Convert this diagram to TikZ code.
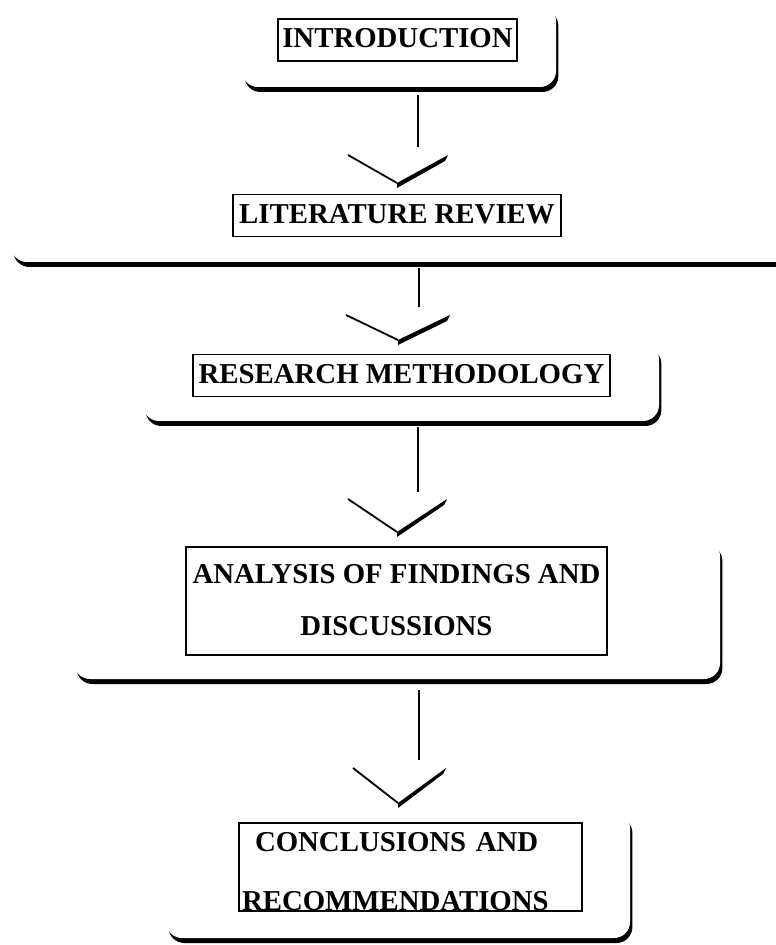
\documentclass[tikz,border=0pt]{standalone}
\usepackage{fontspec}
\setmainfont{Liberation Serif}
\usetikzlibrary{shadows}

\tikzset{
  panel/.style={fill=white, rounded corners=8pt, inner sep=0pt,
    drop shadow={shadow xshift=1.2pt, shadow yshift=-2.5pt, opacity=1, fill=black}},
  titlebox/.style={draw, line width=0.7pt, fill=white, inner xsep=2pt, inner ysep=0pt,
    text height=14.5pt, text depth=6.5pt, font=\fontsize{14.4}{17}\selectfont\bfseries},
  titlebox2/.style={draw, line width=0.7pt, fill=white, inner xsep=1.5pt, inner ysep=0pt},
  link/.style={line width=0.65pt},
  arm/.style={line width=0.9pt}
}

\begin{document}
\begin{tikzpicture}[x=0.5pt, y=-0.5pt]
		\useasboundingbox (0,0) rectangle (775,945);
		% panels
		\node[panel, minimum width=157pt, minimum height=41pt] (pintro) at (399,46) {};
		\node[panel, minimum width=394.5pt, minimum height=37pt] (plit) at (405.5,225) {};
		\node[panel, minimum width=258pt, minimum height=39pt] (pmeth) at (401,382) {};
		\node[panel, minimum width=323pt, minimum height=69.5pt] (pana) at (397,609.5) {};
		\node[panel, minimum width=232pt, minimum height=63pt] (pconc) at (398,875) {};
		% titles
		\node[titlebox, minimum width=119.5pt] (intro) at (397.5,40) {INTRODUCTION};
		\node[titlebox, minimum width=164pt] (litrev) at (397,215.5) {LITERATURE REVIEW};
		\node[titlebox, minimum width=208.5pt] (method) at (401.5,375.5) {RESEARCH METHODOLOGY};
		\node[titlebox2, minimum width=210.5pt, align=center, font=\fontsize{14.4}{26}\selectfont\bfseries] (analysis) at (396.5,601)
			{\rule{0pt}{18pt}ANALYSIS OF FINDINGS AND\\DISCUSSIONS\rule[-10pt]{0pt}{10pt}};
		\node[titlebox2, text width=168.5pt, align=left, font=\fontsize{14.4}{29.5}\selectfont\bfseries] (concl) at (410.5,867)
			{\rule{0pt}{14.5pt}\hspace{6.5pt}CONCLUSIONS AND\\RECOMMENDATIONS};
		% line ends and chevron tips
		\coordinate (e1) at (418,147);
		\coordinate (e2) at (419,307);
		\coordinate (e3) at (418,492);
		\coordinate (e4) at (419,760);
		\coordinate (c1) at (397,183);
		\coordinate (c2) at (398,340);
		\coordinate (c3) at (397,532);
		\coordinate (c4) at (398,803);
		% connectors
		\draw[link] (pintro.south -| e1) ++(0,8) -- (e1);
		\draw[arm] (c1) ++(-49,-28) -- (c1);
		\fill (c1) -- ++(51,-28) -- ++(-3,6) -- ([yshift=-2.5pt]c1) -- cycle;
		\draw[link] (plit.south -| e2) ++(0,6) -- (e2);
		\draw[arm] (c2) ++(-52,-25) -- (c2);
		\fill (c2) -- ++(52,-25) -- ++(-3,6) -- ([yshift=-2.5pt]c2) -- cycle;
		\draw[link] (pmeth.south -| e3) ++(0,6) -- (e3);
		\draw[arm] (c3) ++(-49,-33) -- (c3);
		\fill (c3) -- ++(50,-33) -- ++(-3,6) -- ([yshift=-2.5pt]c3) -- cycle;
		\draw[link] (pana.south -| e4) ++(0,11) -- (e4);
		\draw[arm] (c4) ++(-45,-35) -- (c4);
		\fill (c4) -- ++(48,-35) -- ++(-3,6) -- ([yshift=-2.5pt]c4) -- cycle;
	\end{tikzpicture}
\end{document}
